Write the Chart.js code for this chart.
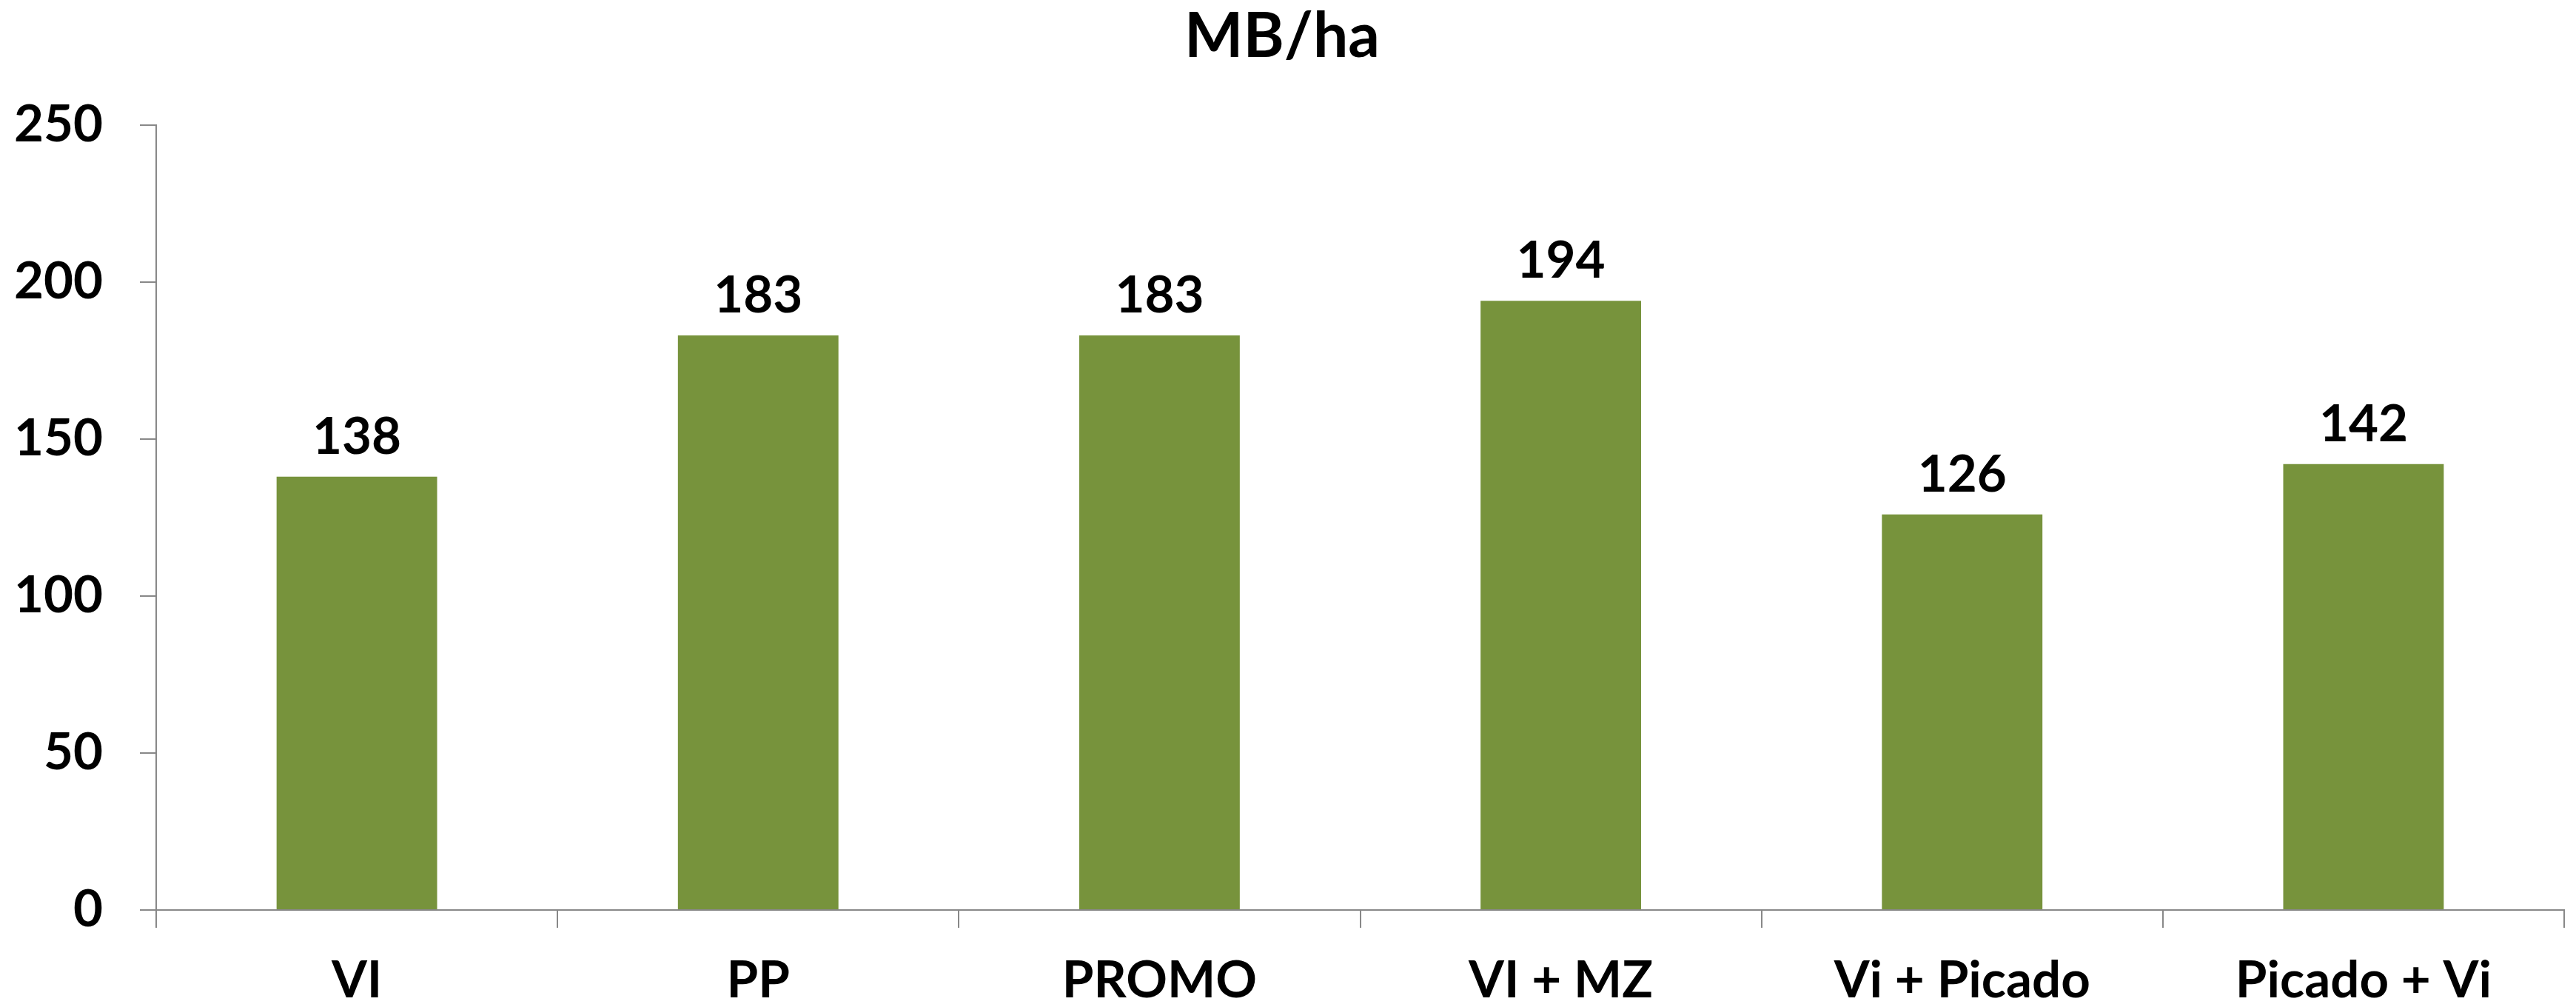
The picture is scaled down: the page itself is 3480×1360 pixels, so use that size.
<!DOCTYPE html>
<html>
<head>
<meta charset="utf-8">
<script src="https://cdn.jsdelivr.net/npm/chart.js@4/dist/chart.umd.min.js"></script>
<style>
  html, body { margin: 0; padding: 0; background: #ffffff; }
  #wrap { width: 3480px; height: 1360px; }
</style>
</head>
<body>
<div id="wrap"><canvas id="chart" width="3480" height="1360"></canvas></div>
<script>
// Margen bruto por hectárea según sistema
const categories = ['VI', 'PP', 'PROMO', 'VI + MZ', 'Vi + Picado', 'Picado + Vi'];
const mbPorHa = [138, 183, 183, 194, 126, 142];
const yTicks = [0, 50, 100, 150, 200, 250];
const chartTitle = 'MB/ha';

const FONT = 'Lato, "Open Sans", "DejaVu Sans", sans-serif';
const AXIS_GREY = '#888888';

// Value labels above each bar
const valueLabels = {
  id: 'valueLabels',
  afterDatasetsDraw(chart) {
    const ctx = chart.ctx;
    const meta = chart.getDatasetMeta(0);
    ctx.save();
    ctx.font = 'bold 69px ' + FONT;
    ctx.fillStyle = '#000000';
    ctx.textAlign = 'center';
    ctx.textBaseline = 'alphabetic';
    meta.data.forEach((bar, i) => {
      ctx.fillText(String(chart.data.datasets[0].data[i]), bar.x, bar.y - 31);
    });
    ctx.restore();
  }
};

new Chart(document.getElementById('chart'), {
  type: 'bar',
  data: {
    labels: categories,
    datasets: [{
      data: mbPorHa,
      backgroundColor: '#77933C',
      borderWidth: 0,
      categoryPercentage: 1.0,
      barPercentage: 0.4
    }]
  },
  options: {
    responsive: false,
    animation: false,
    devicePixelRatio: 1,
    layout: { padding: { left: 0, right: 16, top: 0, bottom: 0 } },
    plugins: {
      legend: { display: false },
      tooltip: { enabled: false },
      title: {
        display: true,
        text: chartTitle,
        color: '#000000',
        font: { family: FONT, size: 84, weight: 'bold', lineHeight: 1.2 },
        padding: { top: 0, bottom: 68 }
      }
    },
    scales: {
      x: {
        grid: {
          display: true,
          drawOnChartArea: false,
          drawTicks: true,
          tickLength: 24,
          color: AXIS_GREY,
          lineWidth: 2
        },
        border: { display: true, color: AXIS_GREY, width: 2 },
        ticks: {
          color: '#000000',
          font: { family: FONT, size: 69, weight: 'bold' },
          padding: 30,
          maxRotation: 0,
          autoSkip: false
        },
        afterFit(scale) { scale.height = 131; }
      },
      y: {
        min: 0,
        max: 250,
        afterBuildTicks(scale) { scale.ticks = yTicks.map(v => ({ value: v })); },
        grid: {
          display: true,
          drawOnChartArea: false,
          drawTicks: true,
          tickLength: 22,
          color: AXIS_GREY,
          lineWidth: 2
        },
        border: { display: true, color: AXIS_GREY, width: 2 },
        ticks: {
          color: '#000000',
          font: { family: FONT, size: 69, weight: 'bold' },
          padding: 50
        },
        afterFit(scale) { scale.width = 211; }
      }
    }
  },
  plugins: [valueLabels]
});
</script>
</body>
</html>
